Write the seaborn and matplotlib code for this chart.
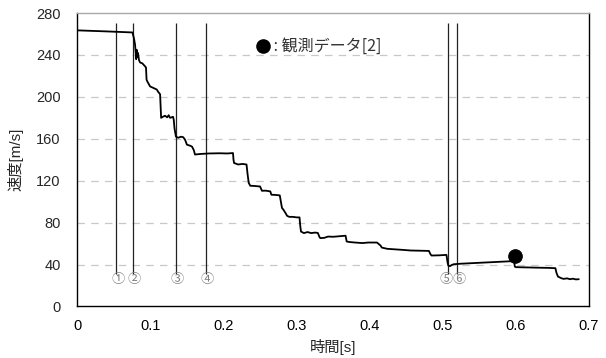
import matplotlib
matplotlib.use("Agg")
import matplotlib.pyplot as plt
import seaborn as sns
import pandas as pd

# Velocity history of the projectile [s, m/s]
time_s = [
    0.000, 0.040, 0.0755, 0.0775, 0.0790, 0.0800, 0.0806, 0.0812, 0.0822, 0.0830,
    0.0845, 0.0860, 0.0890, 0.0927, 0.0940, 0.0948, 0.0960, 0.0996, 0.1040, 0.1088,
    0.1105, 0.1133, 0.1140, 0.1147, 0.1170, 0.1200, 0.1230, 0.1250, 0.1270, 0.1310,
    0.1320, 0.1330, 0.1350, 0.1380, 0.1420, 0.1450, 0.1475, 0.1500, 0.1544, 0.1570,
    0.1595, 0.1610, 0.1680, 0.1800, 0.1950, 0.2050, 0.2130, 0.2137, 0.2145, 0.2200,
    0.2260, 0.2315, 0.2330, 0.2345, 0.2366, 0.2420, 0.2500, 0.2515, 0.2526, 0.2580,
    0.2640, 0.2655, 0.2700, 0.2770, 0.2785, 0.2800, 0.2820, 0.2850, 0.2870, 0.2900,
    0.2950, 0.3000, 0.3040, 0.3050, 0.3060, 0.3100, 0.3150, 0.3200, 0.3250, 0.3290,
    0.3315, 0.3325, 0.3380, 0.3430, 0.3500, 0.3580, 0.3670, 0.3685, 0.3720, 0.3800,
    0.3900, 0.3980, 0.4100, 0.4150, 0.4165, 0.4240, 0.4350, 0.4450, 0.4560, 0.4680,
    0.4810, 0.4830, 0.4845, 0.4950, 0.5050, 0.5065, 0.5075, 0.5100, 0.5120, 0.5150,
    0.5250, 0.5400, 0.5550, 0.5700, 0.5850, 0.5975, 0.5985, 0.6000, 0.6150, 0.6300,
    0.6450, 0.6540, 0.6555, 0.6575, 0.6620, 0.6650, 0.6700, 0.6740, 0.6780, 0.6820,
    0.6860,
]
speed_ms = [
    263.5, 262.5, 261.5, 256.0, 250.0, 241.0, 236.0, 245.0, 238.0, 242.0,
    235.0, 232.8, 232.0, 229.2, 228.0, 216.4, 214.5, 210.0, 208.6, 207.0,
    205.0, 202.5, 192.0, 180.0, 181.0, 182.0, 180.5, 182.5, 180.0, 181.0,
    178.0, 170.0, 162.0, 161.0, 162.0, 161.5, 159.0, 154.4, 153.4, 152.5,
    149.0, 145.0, 145.5, 146.0, 146.2, 146.0, 146.4, 140.0, 136.9, 135.5,
    136.0, 135.5, 126.0, 118.0, 115.2, 115.0, 114.5, 112.0, 110.4, 110.5,
    109.8, 106.6, 106.5, 106.0, 100.0, 94.0, 92.3, 89.0, 86.5, 85.5,
    85.5, 85.0, 85.0, 77.0, 71.5, 70.0, 71.0, 70.0, 70.5, 70.2,
    66.0, 65.2, 65.5, 66.7, 66.5, 67.0, 67.5, 62.0, 61.5, 61.0,
    60.5, 61.0, 61.0, 58.0, 56.2, 55.0, 54.5, 54.0, 53.4, 53.2,
    53.0, 50.0, 48.6, 48.8, 49.2, 42.0, 39.0, 38.5, 39.5, 40.3,
    40.8, 41.3, 41.8, 42.3, 42.8, 43.3, 38.0, 37.5, 37.2, 37.0,
    36.8, 36.5, 32.0, 28.5, 27.0, 26.3, 26.8, 26.0, 26.5, 25.8,
    26.0,
]

# Key events along the flight (vertical markers)
event_t = [0.0535, 0.0765, 0.135, 0.1755, 0.507, 0.5195]
event_labels = ["①", "②", "③", "④", "⑤", "⑥"]
label_x = [0.0555, 0.0785, 0.137, 0.1775, 0.5040, 0.5220]

# Observed value from reference [2]
obs_t = [0.5985]
obs_v = [48.0]

y_ticks = [0, 40, 80, 120, 160, 200, 240, 280]
x_ticks = [0, 0.1, 0.2, 0.3, 0.4, 0.5, 0.6, 0.7]

sns.set_style("white")
plt.rcParams["font.family"] = ["Liberation Sans", "Noto Sans CJK JP"]

fig = plt.figure(figsize=(6.06, 3.58), dpi=100)
ax = fig.add_axes([0.1275, 0.144, 0.8445, 0.8195])

curve = pd.DataFrame({"t": time_s, "v": speed_ms})
sns.lineplot(data=curve, x="t", y="v", ax=ax, color="black", lw=1.3,
             estimator=None, sort=False, zorder=3)

ax.vlines(event_t, 31, 270.5, colors="#222222", lw=0.9, zorder=2)
for xl, lab in zip(label_x, event_labels):
    ax.text(xl, 25.5, lab, ha="center", va="center", fontsize=9.5,
            color="#808080", family=["Noto Sans CJK JP"], zorder=4)

obs = pd.DataFrame({"t": obs_t, "v": obs_v})
sns.scatterplot(data=obs, x="t", y="v", ax=ax, color="black", s=95,
                edgecolor="black", zorder=5, legend=False)

# legend-like annotation
ax.plot([0.2535], [248.5], "o", color="black", ms=9.5, zorder=5)
ax.text(0.2640, 248.5, " : 観測データ[2]", ha="left", va="center", fontsize=11.5,
        color="#333333", family=["Noto Sans CJK JP"])

ax.set_xlim(0, 0.7)
ax.set_ylim(0, 280)
ax.set_xticks(x_ticks)
ax.set_xticklabels(["0", "0.1", "0.2", "0.3", "0.4", "0.5", "0.6", "0.7"])
ax.set_yticks(y_ticks)

for yv in y_ticks[1:-1]:
    ax.axhline(yv, color="#c8c8c8", lw=0.9, ls=(0, (6, 5)), zorder=1)

ax.tick_params(axis="x", direction="in", length=5, width=1, labelsize=10.5,
               pad=9, colors="black")
ax.tick_params(axis="y", direction="in", length=0, labelsize=10.5, pad=12)

for side in ["left", "bottom", "right"]:
    ax.spines[side].set_color("black")
    ax.spines[side].set_linewidth(1.0)
ax.spines["top"].set_color("#a8a8a8")
ax.spines["top"].set_linewidth(1.0)

ax.set_xlabel("時間[s]", fontsize=11, labelpad=4)
ax.set_ylabel("速度[m/s]", fontsize=11, labelpad=9)

fig.savefig("out.png", dpi=100)
